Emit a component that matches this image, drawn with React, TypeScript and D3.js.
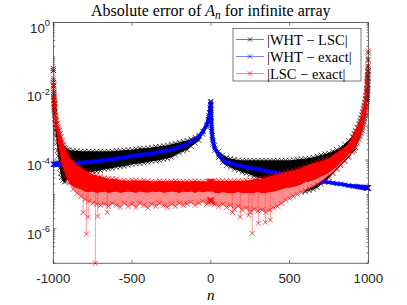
import React, { useEffect, useRef } from 'react';
import * as d3 from 'd3';

// sample positions n (denser near the edges and around n = 0)
const nVals = [
  -1000, -999, -998, -997, -996, -995, -994, -993, -992, -990, -988, -985, -982, -978, -974, -970, -965, -960, -954, -948,
  -940, -930, -920, -910, -900,
  -875, -850, -825, -800, -775, -750, -725, -700, -675, -650, -625, -600, -575, -550, -525, -500, -475, -450, -425, -400,
  -375, -350, -325, -300, -275, -250, -225, -200, -175, -150, -125, -100, -75, -50, -25,
  -15, -10, -6, -3, -1, 0, 1, 3, 6, 10, 15,
  25, 50, 75, 100, 125, 150, 175, 200, 225, 250, 275, 300, 325, 350, 375, 400, 425, 450, 475, 500,
  525, 550, 575, 600, 625, 650, 675, 700, 725, 750, 775, 800, 825, 850, 875,
  900, 910, 920, 930, 940, 948, 954, 960, 965, 970, 974, 978, 982, 985, 988, 990, 992, 993, 994, 995,
  996, 997, 998, 999, 1000,
];

// |WHT - LSC|: top and bottom of its oscillation band
const whtLscHi = [
  4.0e-2, 2.1e-2, 1.4e-2, 9.3e-3, 7.1e-3, 5.4e-3, 4.4e-3, 3.6e-3, 3.2e-3, 2.4e-3, 1.9e-3, 1.4e-3, 1.1e-3, 8.3e-4, 6.8e-4,
  5.6e-4, 4.6e-4, 4.0e-4, 3.5e-4, 3.1e-4, 2.7e-4, 2.3e-4, 2.2e-4, 2.0e-4, 1.95e-4,
  1.9e-4, 1.85e-4, 1.8e-4, 1.8e-4, 1.8e-4, 1.8e-4, 1.8e-4, 1.8e-4, 1.8e-4, 1.8e-4, 1.8e-4, 1.9e-4, 1.9e-4, 1.95e-4,
  2.0e-4, 2.0e-4, 2.1e-4, 2.2e-4, 2.2e-4, 2.25e-4, 2.3e-4, 2.45e-4, 2.5e-4, 2.6e-4, 2.7e-4, 2.9e-4, 3.1e-4, 3.3e-4,
  3.5e-4, 3.7e-4, 4.1e-4, 4.6e-4, 5.2e-4, 6.8e-4, 1.0e-3,
  1.5e-3, 1.9e-3, 2.4e-3, 3.2e-3, 4.1e-3, 5.1e-3, 2.8e-3, 1.6e-3, 8.9e-4, 5.2e-4, 3.7e-4,
  2.7e-4, 1.8e-4, 1.4e-4, 1.2e-4, 1.1e-4, 1.05e-4, 1.0e-4, 9.8e-5, 9.8e-5, 9.8e-5, 9.8e-5, 9.8e-5, 9.8e-5, 9.8e-5,
  9.8e-5, 9.8e-5, 9.8e-5, 9.8e-5, 9.8e-5, 9.8e-5, 1.0e-4, 1.05e-4, 1.08e-4, 1.1e-4, 1.15e-4, 1.2e-4, 1.3e-4, 1.4e-4,
  1.5e-4, 1.6e-4, 1.8e-4, 2.0e-4, 2.3e-4, 2.9e-4, 3.7e-4,
  4.9e-4, 6.0e-4, 7.3e-4, 8.9e-4, 1.17e-3, 1.4e-3, 1.7e-3, 2.1e-3, 2.6e-3, 3.2e-3, 3.9e-3, 4.7e-3, 6.2e-3, 7.6e-3,
  1.0e-2, 1.2e-2, 1.6e-2, 1.9e-2, 2.3e-2, 2.6e-2, 3.1e-2, 3.8e-2, 5.4e-2, 8.5e-2, 1.3e-1,
];
const whtLscLo = [
  4.0e-2, 1.8e-2, 1.2e-2, 8.1e-3, 5.8e-3, 4.4e-3, 3.4e-3, 2.8e-3, 2.3e-3, 1.6e-3, 1.17e-3, 7.3e-4, 4.9e-4, 3.1e-4, 1.9e-4,
  1.3e-4, 8.6e-5, 5.8e-5, 4.1e-5, 3.1e-5, 2.6e-5, 2.3e-5, 2.4e-5, 2.8e-5, 3.1e-5,
  3.4e-5, 3.6e-5, 3.8e-5, 4.1e-5, 4.4e-5, 4.6e-5, 4.7e-5, 5.0e-5, 5.4e-5, 5.6e-5, 5.8e-5, 6.2e-5, 6.4e-5, 6.6e-5,
  7.0e-5, 7.5e-5, 7.8e-5, 8.0e-5, 8.3e-5, 8.6e-5, 9.2e-5, 9.5e-5, 9.8e-5, 1.05e-4, 1.1e-4, 1.2e-4, 1.4e-4, 1.6e-4,
  1.8e-4, 2.0e-4, 2.5e-4, 3.1e-4, 3.7e-4, 5.6e-4, 8.9e-4,
  1.3e-3, 1.7e-3, 2.3e-3, 3.0e-3, 3.9e-3, 4.7e-3, 2.4e-3, 1.3e-3, 6.8e-4, 4.0e-4, 2.9e-4,
  1.9e-4, 1.2e-4, 8.6e-5, 7.0e-5, 6.2e-5, 5.4e-5, 5.0e-5, 4.4e-5, 4.1e-5, 3.8e-5, 3.4e-5, 3.1e-5, 2.9e-5, 2.6e-5,
  2.4e-5, 2.3e-5, 2.1e-5, 2.0e-5, 1.7e-5, 1.6e-5, 1.5e-5, 1.4e-5, 1.3e-5, 1.2e-5, 1.3e-5, 1.4e-5, 1.6e-5, 2.0e-5,
  2.4e-5, 3.1e-5, 4.1e-5, 5.4e-5, 7.0e-5, 9.2e-5, 1.2e-4,
  1.7e-4, 1.9e-4, 2.3e-4, 3.1e-4, 4.0e-4, 4.9e-4, 6.0e-4, 7.3e-4, 8.9e-4, 1.1e-3, 1.3e-3, 1.6e-3, 2.0e-3, 2.4e-3,
  3.2e-3, 3.9e-3, 5.1e-3, 5.8e-3, 6.6e-3, 8.1e-3, 1.0e-2, 1.2e-2, 1.6e-2, 2.4e-2, 4.0e-2,
];

// |WHT - exact|
const whtExact = [
  7.5e-5, 7.5e-5, 7.5e-5, 7.5e-5, 7.5e-5, 7.5e-5, 7.5e-5, 7.5e-5, 7.5e-5, 7.5e-5, 7.5e-5, 7.6e-5, 7.6e-5, 7.6e-5, 7.7e-5,
  7.7e-5, 7.7e-5, 7.8e-5, 7.8e-5, 7.8e-5, 7.9e-5, 7.9e-5, 7.9e-5, 8.0e-5, 8.0e-5,
  8.1e-5, 8.3e-5, 8.4e-5, 8.6e-5, 8.8e-5, 9.0e-5, 9.2e-5, 9.6e-5, 9.8e-5, 1.02e-4, 1.05e-4, 1.1e-4, 1.15e-4, 1.19e-4,
  1.25e-4, 1.3e-4, 1.35e-4, 1.4e-4, 1.45e-4, 1.5e-4, 1.55e-4, 1.62e-4, 1.7e-4, 1.8e-4, 1.9e-4, 2.0e-4, 2.2e-4, 2.3e-4,
  2.6e-4, 2.9e-4, 3.4e-4, 4.0e-4, 4.9e-4, 6.8e-4, 1.1e-3,
  1.5e-3, 1.9e-3, 2.4e-3, 3.3e-3, 4.1e-3, 5.1e-3, 2.8e-3, 1.4e-3, 7.8e-4, 4.6e-4, 3.3e-4,
  2.2e-4, 1.4e-4, 1.05e-4, 8.6e-5, 8.0e-5, 7.5e-5, 7.0e-5, 6.6e-5, 6.3e-5, 6.0e-5, 5.7e-5, 5.4e-5, 5.1e-5, 4.9e-5,
  4.6e-5, 4.4e-5, 4.2e-5, 4.0e-5, 3.8e-5, 3.6e-5, 3.4e-5, 3.3e-5, 3.1e-5, 2.9e-5, 2.8e-5, 2.7e-5, 2.55e-5, 2.4e-5,
  2.3e-5, 2.25e-5, 2.15e-5, 2.05e-5, 2.0e-5, 1.9e-5, 1.8e-5,
  1.75e-5, 1.73e-5, 1.71e-5, 1.69e-5, 1.67e-5, 1.65e-5, 1.63e-5, 1.62e-5, 1.61e-5, 1.6e-5, 1.59e-5, 1.58e-5, 1.57e-5,
  1.57e-5, 1.56e-5, 1.56e-5, 1.56e-5, 1.55e-5, 1.55e-5, 1.55e-5, 1.55e-5, 1.55e-5, 1.55e-5, 1.55e-5, 1.55e-5,
];

// |LSC - exact|: top of band, bottom of the dense part, ragged bottom
const lscExactHi = [
  4.6e-2, 2.4e-2, 1.5e-2, 1.06e-2, 8.1e-3, 6.6e-3, 5.4e-3, 4.7e-3, 4.1e-3, 3.2e-3, 2.6e-3, 2.0e-3, 1.7e-3, 1.4e-3, 1.17e-3,
  9.5e-4, 8.3e-4, 7.3e-4, 6.0e-4, 4.9e-4, 3.7e-4, 2.7e-4, 1.9e-4, 1.5e-4, 1.2e-4,
  9.2e-5, 7.0e-5, 6.2e-5, 5.0e-5, 4.4e-5, 3.8e-5, 3.6e-5, 3.4e-5, 3.1e-5, 2.9e-5, 2.85e-5, 2.8e-5, 2.6e-5, 2.6e-5,
  2.5e-5, 2.6e-5, 2.6e-5, 2.5e-5, 2.6e-5, 2.5e-5, 2.4e-5, 2.4e-5, 2.5e-5, 2.4e-5, 2.4e-5, 2.4e-5, 2.5e-5, 2.4e-5,
  2.4e-5, 2.4e-5, 2.4e-5, 2.5e-5, 2.4e-5, 2.4e-5, 2.4e-5,
  2.4e-5, 2.4e-5, 2.4e-5, 2.4e-5, 2.4e-5, 2.4e-5, 2.4e-5, 2.4e-5, 2.4e-5, 2.4e-5, 2.4e-5,
  2.5e-5, 2.5e-5, 2.5e-5, 2.5e-5, 2.5e-5, 2.5e-5, 2.5e-5, 2.5e-5, 2.6e-5, 2.6e-5, 2.8e-5, 2.85e-5, 2.9e-5, 3.1e-5,
  3.4e-5, 3.6e-5, 3.8e-5, 4.1e-5, 4.4e-5, 4.7e-5, 5.0e-5, 5.4e-5, 5.9e-5, 6.6e-5, 7.2e-5, 8.0e-5, 8.6e-5, 9.2e-5,
  1.02e-4, 1.1e-4, 1.35e-4, 1.6e-4, 1.9e-4, 2.3e-4, 3.1e-4,
  4.6e-4, 5.6e-4, 6.8e-4, 8.3e-4, 1.1e-3, 1.3e-3, 1.6e-3, 2.0e-3, 2.4e-3, 3.0e-3, 3.6e-3, 4.4e-3, 5.8e-3, 7.1e-3,
  9.3e-3, 1.1e-2, 1.5e-2, 1.7e-2, 2.1e-2, 2.4e-2, 2.9e-2, 3.5e-2, 4.9e-2, 7.9e-2, 1.5e-1,
];
const lscExactMid = [
  4.6e-2, 1.5e-2, 9.3e-3, 6.6e-3, 5.1e-3, 4.1e-3, 3.4e-3, 3.0e-3, 2.6e-3, 2.0e-3, 1.5e-3, 1.1e-3, 8.3e-4, 6.0e-4, 4.3e-4,
  3.3e-4, 2.3e-4, 1.8e-4, 1.3e-4, 9.2e-5, 6.6e-5, 4.7e-5, 3.6e-5, 2.8e-5, 2.1e-5,
  1.7e-5, 1.5e-5, 1.4e-5, 1.2e-5, 1.15e-5, 1.2e-5, 1.1e-5, 1.15e-5, 1.2e-5, 1.1e-5, 1.15e-5, 1.2e-5, 1.1e-5, 1.15e-5,
  1.2e-5, 1.15e-5, 1.1e-5, 1.2e-5, 1.15e-5, 1.1e-5, 1.2e-5, 1.15e-5, 1.2e-5, 1.1e-5, 1.15e-5, 1.2e-5, 1.15e-5, 1.1e-5,
  1.2e-5, 1.15e-5, 1.2e-5, 1.1e-5, 1.2e-5, 1.15e-5, 1.2e-5,
  1.2e-5, 1.2e-5, 1.2e-5, 1.2e-5, 1.2e-5, 1.2e-5, 1.2e-5, 1.2e-5, 1.2e-5, 1.2e-5, 1.2e-5,
  1.1e-5, 1.08e-5, 1.15e-5, 1.1e-5, 1.08e-5, 1.1e-5, 1.15e-5, 1.08e-5, 1.1e-5, 1.08e-5, 1.1e-5, 1.15e-5, 1.08e-5, 1.1e-5,
  1.15e-5, 1.2e-5, 1.3e-5, 1.4e-5, 1.5e-5, 1.6e-5, 1.7e-5, 1.8e-5, 2.0e-5, 2.3e-5, 2.4e-5, 2.6e-5, 2.9e-5, 3.4e-5,
  3.8e-5, 4.4e-5, 5.4e-5, 6.6e-5, 8.6e-5, 1.1e-4, 1.5e-4,
  1.9e-4, 2.2e-4, 2.7e-4, 3.5e-4, 4.6e-4, 5.6e-4, 6.8e-4, 8.3e-4, 1.0e-3, 1.25e-3, 1.5e-3, 1.9e-3, 2.3e-3, 2.8e-3,
  3.6e-3, 4.4e-3, 5.8e-3, 6.6e-3, 7.6e-3, 9.3e-3, 1.1e-2, 1.4e-2, 1.9e-2, 2.8e-2, 4.6e-2,
];
const lscExactLo = [
  4.6e-2, 1.5e-2, 9.3e-3, 6.6e-3, 5.1e-3, 4.1e-3, 3.4e-3, 3.0e-3, 2.6e-3, 2.0e-3, 1.5e-3, 1.1e-3, 8.3e-4, 6.0e-4, 4.3e-4,
  3.3e-4, 2.3e-4, 1.8e-4, 1.3e-4, 9.2e-5, 6.6e-5, 4.7e-5, 3.6e-5, 2.8e-5, 2.1e-5,
  1.4e-5, 1.08e-5, 8.8e-6, 7.2e-6, 6.3e-6, 5.5e-6, 5.2e-6, 4.8e-6, 5.2e-6, 4.5e-6, 5.5e-6, 4.8e-6, 4.2e-6, 5.5e-6,
  4.5e-6, 5.2e-6, 4.2e-6, 5.5e-6, 4.8e-6, 4.0e-6, 5.2e-6, 4.5e-6, 5.5e-6, 4.8e-6, 4.2e-6, 5.2e-6, 4.5e-6, 5.5e-6,
  4.8e-6, 5.2e-6, 5.9e-6, 4.8e-6, 5.5e-6, 6.3e-6, 5.2e-6,
  5.9e-6, 6.8e-6, 6.3e-6, 7.2e-6, 6.8e-6, 6.3e-6, 6.8e-6, 5.9e-6, 6.8e-6, 6.3e-6, 5.5e-6,
  5.2e-6, 4.5e-6, 5.2e-6, 4.2e-6, 4.8e-6, 3.7e-6, 4.5e-6, 3.5e-6, 4.0e-6, 3.0e-6, 3.7e-6, 3.3e-6, 3.5e-6, 3.0e-6,
  3.5e-6, 4.0e-6, 4.5e-6, 5.5e-6, 6.8e-6, 7.7e-6, 8.8e-6, 1.0e-5, 1.15e-5, 1.3e-5, 1.5e-5, 1.7e-5, 2.0e-5, 2.4e-5,
  2.9e-5, 3.6e-5, 4.4e-5, 5.8e-5, 7.5e-5, 9.8e-5, 1.3e-4,
  1.9e-4, 2.2e-4, 2.7e-4, 3.5e-4, 4.6e-4, 5.6e-4, 6.8e-4, 8.3e-4, 1.0e-3, 1.25e-3, 1.5e-3, 1.9e-3, 2.3e-3, 2.8e-3,
  3.6e-3, 4.4e-3, 5.8e-3, 6.6e-3, 7.6e-3, 9.3e-3, 1.1e-2, 1.4e-2, 1.9e-2, 2.8e-2, 4.6e-2,
];
// deep single dips of |LSC - exact|
const lscDipN = [-810, -790, -778, -733, -718, -657, 137, 187, 240, 263, 302, 346, 378];
const lscDipVal = [3.0e-6, 7.0e-7, 2.2e-6, 1.0e-7, 2.3e-6, 3.0e-6, 3.0e-6, 2.2e-6, 2.5e-6, 7.4e-7, 1.45e-6, 1.55e-6, 1.8e-6];

const xTicks = [-1000, -500, 0, 500, 1000];
const yTickExp = [0, -2, -4, -6];
const legendLabels = ['|WHT − LSC|', '|WHT − exact|', '|LSC − exact|'];
const seriesColors = ['#000000', '#0000ff', '#ff0000'];

const axisColor = '#262626';
const sans = '"Liberation Sans", Arial, Helvetica, sans-serif';
const serif = '"Liberation Serif", "Times New Roman", serif';

export default function App() {
  const ref = useRef<SVGSVGElement>(null);

  useEffect(() => {
    const svg = d3.select(ref.current);
    svg.selectAll('*').remove();

    const x = d3.scaleLinear().domain([-1000, 1000]).range([53.3, 368.3]);
    const y = d3.scaleLog().domain([1e-7, 1]).range([263.2, 22.5]);
    const [x0, x1] = x.range();
    const [yb, yt] = y.range();

    svg.append('rect').attr('width', 407).attr('height', 305).attr('fill', '#fff');

    const cross = (cx: number, cy: number, r: number) =>
      `M${cx - r},${cy - r}L${cx + r},${cy + r}M${cx - r},${cy + r}L${cx + r},${cy - r}`;
    const markers = (vals: number[], r = 2.5) =>
      vals.map((v, i) => cross(x(nVals[i]), y(v), r)).join('');
    const band = (hi: number[], lo: number[]) =>
      d3.area<number>()
        .x((d, i) => x(nVals[i]))
        .y0((d, i) => y(lo[i]))
        .y1(d => y(d))(hi);
    const line = d3.line<number>().x((d, i) => x(nVals[i])).y(d => y(d));

    //|WHT - LSC|
    svg.append('path').attr('d', band(whtLscHi, whtLscLo)).attr('fill', seriesColors[0]);
    svg.append('path').attr('d', markers(whtLscHi) + markers(whtLscLo))
      .attr('fill', 'none').attr('stroke', seriesColors[0]).attr('stroke-width', 0.7);

    //|WHT - exact|
    svg.append('path').attr('d', line(whtExact))
      .attr('fill', 'none').attr('stroke', seriesColors[1]).attr('stroke-width', 3.6);
    svg.append('path').attr('d', markers(whtExact))
      .attr('fill', 'none').attr('stroke', seriesColors[1]).attr('stroke-width', 0.8);

    //|LSC - exact|
    svg.append('path').attr('d', band(lscExactMid, lscExactLo)).attr('fill', '#ff8c8c');
    const dipIdx = lscDipN.map(n => d3.minIndex(nVals, v => Math.abs(v - n)));
    lscDipN.forEach((n, k) => {
      svg.append('line')
        .attr('x1', x(n)).attr('x2', x(n))
        .attr('y1', y(lscExactMid[dipIdx[k]])).attr('y2', y(lscDipVal[k]))
        .attr('stroke', '#ff5050').attr('stroke-width', 0.6);
    });
    svg.append('path').attr('d', band(lscExactHi, lscExactMid)).attr('fill', seriesColors[2]);
    svg.append('path')
      .attr('d', markers(lscExactHi) + markers(lscExactLo) +
        lscDipN.map((n, k) => cross(x(n), y(lscDipVal[k]), 2.5)).join(''))
      .attr('fill', 'none').attr('stroke', seriesColors[2]).attr('stroke-width', 0.7);

    //Axes box
    svg.append('rect')
      .attr('x', x0).attr('y', yt)
      .attr('width', x1 - x0).attr('height', yb - yt)
      .attr('fill', 'none').attr('stroke', axisColor).attr('stroke-width', 0.7);

    const ticks = svg.append('g').attr('stroke', axisColor).attr('stroke-width', 0.6);
    xTicks.forEach(t => {
      ticks.append('line').attr('x1', x(t)).attr('x2', x(t)).attr('y1', yb).attr('y2', yb - 3.2);
      ticks.append('line').attr('x1', x(t)).attr('x2', x(t)).attr('y1', yt).attr('y2', yt + 3.2);
      svg.append('text')
        .attr('x', x(t)).attr('y', 283)
        .attr('text-anchor', 'middle')
        .attr('font-family', sans).attr('font-size', 13.3)
        .attr('fill', axisColor)
        .text(t);
    });

    //Log ticks, major on labelled decades
    for (let e = -7; e < 0; e++) {
      for (let m = 1; m < 10; m++) {
        const yy = y(m * Math.pow(10, e));
        const len = m === 1 && yTickExp.includes(e) ? 3.2 : 1.8;
        ticks.append('line').attr('x1', x0).attr('x2', x0 + len).attr('y1', yy).attr('y2', yy);
        ticks.append('line').attr('x1', x1).attr('x2', x1 - len).attr('y1', yy).attr('y2', yy);
      }
    }

    yTickExp.forEach(e => {
      const yy = y(Math.pow(10, e));
      const label = svg.append('text')
        .attr('x', 50).attr('y', yy + 10)
        .attr('text-anchor', 'end')
        .attr('font-family', sans).attr('font-size', 13.3)
        .attr('fill', axisColor);
      label.append('tspan').text('10');
      label.append('tspan').attr('font-size', 9.3).attr('dy', -6.5).text(e === 0 ? '0' : `-${-e}`);
    });

    //Title
    const title = svg.append('text')
      .attr('x', 210.8).attr('y', 15.5)
      .attr('text-anchor', 'middle')
      .attr('font-family', serif).attr('font-size', 16)
      .attr('fill', '#000');
    title.append('tspan').text('Absolute error of ');
    title.append('tspan').attr('font-style', 'italic').text('A');
    title.append('tspan').attr('font-style', 'italic').attr('font-size', 11.5).attr('dy', 3).text('n');
    title.append('tspan').attr('dy', -3).text(' for infinite array');

    svg.append('text')
      .attr('x', 210.8).attr('y', 300)
      .attr('text-anchor', 'middle')
      .attr('font-family', serif).attr('font-size', 15)
      .attr('font-style', 'italic')
      .attr('fill', '#000')
      .text('n');

    //Legend
    const lg = svg.append('g');
    lg.append('rect')
      .attr('x', 233).attr('y', 28.5)
      .attr('width', 128).attr('height', 52.5)
      .attr('fill', '#fff').attr('stroke', axisColor).attr('stroke-width', 0.6);
    legendLabels.forEach((lab, k) => {
      const cy = 39.5 + k * 17;
      lg.append('line')
        .attr('x1', 236).attr('x2', 264).attr('y1', cy).attr('y2', cy)
        .attr('stroke', seriesColors[k]).attr('stroke-width', 0.5);
      lg.append('path')
        .attr('d', cross(250, cy, 2.2))
        .attr('fill', 'none').attr('stroke', seriesColors[k]).attr('stroke-width', 0.7);
      lg.append('text')
        .attr('x', 267).attr('y', cy + 5)
        .attr('font-family', serif).attr('font-size', 14.5)
        .attr('fill', '#000')
        .text(lab);
    });
  }, []);

  return <svg ref={ref} width={407} height={305} style={{ position: 'absolute', left: 0, top: 0 }} />;
}
